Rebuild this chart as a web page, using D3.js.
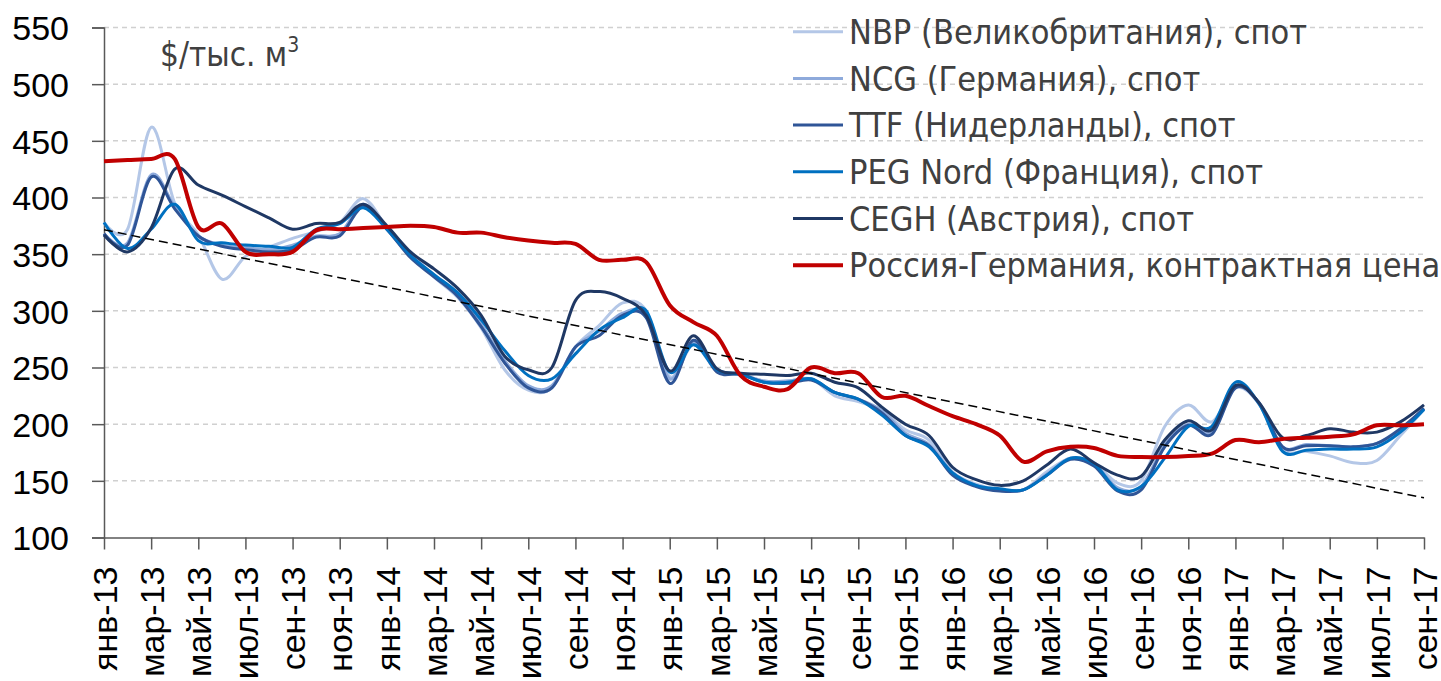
<!DOCTYPE html>
<html>
<head>
<meta charset="utf-8">
<script src="https://cdn.jsdelivr.net/npm/d3@7"></script>
<style>
  body { margin: 0; background: #fff; }
  svg { display: block; font-family: "DejaVu Sans Condensed", "DejaVu Sans", sans-serif; }
</style>
</head>
<body>
<script>
const months = [
  'янв-13','фев-13','мар-13','апр-13','май-13','июн-13','июл-13','авг-13','сен-13','окт-13','ноя-13','дек-13',
  'янв-14','фев-14','мар-14','апр-14','май-14','июн-14','июл-14','авг-14','сен-14','окт-14','ноя-14','дек-14',
  'янв-15','фев-15','мар-15','апр-15','май-15','июн-15','июл-15','авг-15','сен-15','окт-15','ноя-15','дек-15',
  'янв-16','фев-16','мар-16','апр-16','май-16','июн-16','июл-16','авг-16','сен-16','окт-16','ноя-16','дек-16',
  'янв-17','фев-17','мар-17','апр-17','май-17','июн-17','июл-17','авг-17','сен-17'
];
const y_ticks = [100, 150, 200, 250, 300, 350, 400, 450, 500, 550];

const nbp  = [378,372,462,395,367,328,348,356,364,370,378,399,374,352,330,312,285,248,230,232,268,287,307,300,242,270,247,244,238,238,240,225,220,212,195,186,158,147,142,142,158,170,166,148,150,198,217,202,232,218,178,176,172,166,168,190,213];
const ncg  = [368,360,420,392,366,358,356,354,358,366,368,394,372,348,332,314,288,256,234,234,268,282,298,296,240,272,247,244,238,238,240,228,222,212,192,182,157,146,142,142,156,170,165,144,145,182,200,193,233,218,180,182,181,180,183,195,214];
const ttf  = [368,358,418,390,366,357,354,352,354,365,366,392,372,347,330,313,286,254,232,232,268,278,296,294,236,274,246,244,237,236,239,228,222,210,190,181,155,145,141,142,155,169,163,141,142,180,199,191,232,219,180,181,181,180,183,196,214];
const peg  = [378,355,372,394,362,360,358,357,356,372,377,391,372,349,332,316,292,265,243,240,262,283,294,300,246,270,248,244,237,237,240,228,222,208,190,180,157,146,143,142,155,170,165,142,145,170,198,198,237,218,176,177,178,178,180,193,213];
const cegh = [367,352,373,425,411,402,392,382,372,377,378,394,375,352,337,320,296,260,248,250,309,317,311,296,247,278,249,245,244,243,245,237,232,215,200,190,162,151,146,150,164,178,166,155,154,186,203,195,234,219,188,190,196,193,193,202,217];
const rus  = [432,433,434,434,374,377,352,350,352,371,372,373,374,375,374,369,369,365,362,360,359,345,345,343,305,290,278,243,233,231,250,245,245,224,225,216,207,200,190,167,176,180,179,172,171,171,172,174,186,184,187,188,189,191,199,199,200];
// linear trend, first and last month
const trend = [371.5, 135];

const series = [
  { name: 'NBP (Великобритания), спот', values: nbp, color: '#b4c7e7', width: 3 },
  { name: 'NCG (Германия), спот', values: ncg, color: '#8eaadb', width: 3 },
  { name: 'TTF (Нидерланды), спот', values: ttf, color: '#2f5597', width: 3 },
  { name: 'PEG Nord (Франция), спот', values: peg, color: '#0070c0', width: 3 },
  { name: 'CEGH (Австрия), спот', values: cegh, color: '#1f3864', width: 3 },
  { name: 'Россия-Германия, контрактная цена', values: rus, color: '#c00000', width: 4 }
];

const width = 1441, height = 681;
const svg = d3.select('body').append('svg').attr('width', width).attr('height', height);

const x = d3.scalePoint().domain(months).range([104, 1424]);
const y = d3.scaleLinear().domain([100, 550]).range([537.5, 27.5]);

// gridlines
svg.append('g')
  .selectAll('line')
  .data(y_ticks.filter(d => d > 100))
  .enter()
  .append('line')
    .attr('x1', 104).attr('x2', 1424)
    .attr('y1', d => y(d)).attr('y2', d => y(d))
    .attr('stroke', '#d0d0d0')
    .attr('stroke-width', 1.5)
    .attr('stroke-dasharray', '5,4');

// y axis
const y_axis = svg.append('g')
  .attr('transform', 'translate(104,0)')
  .call(d3.axisLeft(y).tickValues(y_ticks).tickSize(12).tickPadding(23));
y_axis.select('.domain').attr('stroke', '#595959').attr('stroke-width', 1.5);
y_axis.selectAll('.tick line').attr('stroke', '#595959').attr('stroke-width', 1.5);
y_axis.selectAll('.tick text')
  .attr('font-family', null)
  .attr('font-size', 34)
  .attr('fill', '#000')
  .attr('dy', '0.36em');

// x axis
const x_axis = svg.append('g')
  .attr('transform', `translate(0,${y(100)})`)
  .call(d3.axisBottom(x).tickValues(months.filter((d, i) => i % 2 === 0)).tickSize(12).tickSizeOuter(0));
x_axis.select('.domain').attr('stroke', '#595959').attr('stroke-width', 1.5);
x_axis.selectAll('.tick line').attr('stroke', '#595959').attr('stroke-width', 1.5);
x_axis.selectAll('.tick text')
  .attr('font-family', null)
  .attr('font-size', 34)
  .attr('fill', '#000')
  .attr('text-anchor', 'end')
  .attr('transform', 'rotate(-90)')
  .attr('x', -29)
  .attr('y', 0)
  .attr('dy', '0.36em');

// unit label
const unit = svg.append('text')
  .attr('x', 160).attr('y', 66)
  .attr('font-size', 33)
  .attr('fill', '#404040')
  .text('$/тыс. м');
unit.append('tspan').attr('dy', -14).attr('font-size', 21).text('3');

// lines
const line = d3.line()
  .x((d, i) => x(months[i]))
  .y(d => y(d))
  .curve(d3.curveCardinal.tension(0));

svg.append('g')
  .selectAll('path')
  .data(series)
  .enter()
  .append('path')
    .attr('d', d => line(d.values))
    .attr('fill', 'none')
    .attr('stroke', d => d.color)
    .attr('stroke-width', d => d.width)
    .attr('stroke-linejoin', 'round');

// trend
svg.append('line')
  .attr('x1', x(months[0])).attr('y1', y(trend[0]))
  .attr('x2', x(months[months.length - 1])).attr('y2', y(trend[1]))
  .attr('stroke', '#000')
  .attr('stroke-width', 1.5)
  .attr('stroke-dasharray', '9,5');

// legend
const legend = svg.append('g')
  .selectAll('g')
  .data(series)
  .enter()
  .append('g')
    .attr('transform', (d, i) => `translate(793,${31.7 + i * 46.7})`);

legend.append('line')
  .attr('x1', 0).attr('x2', 50)
  .attr('stroke', d => d.color)
  .attr('stroke-width', d => d.width);

legend.append('text')
  .attr('x', 56)
  .attr('dy', '0.36em')
  .attr('font-size', 34)
  .attr('fill', '#404040')
  .text(d => d.name);
</script>
</body>
</html>
